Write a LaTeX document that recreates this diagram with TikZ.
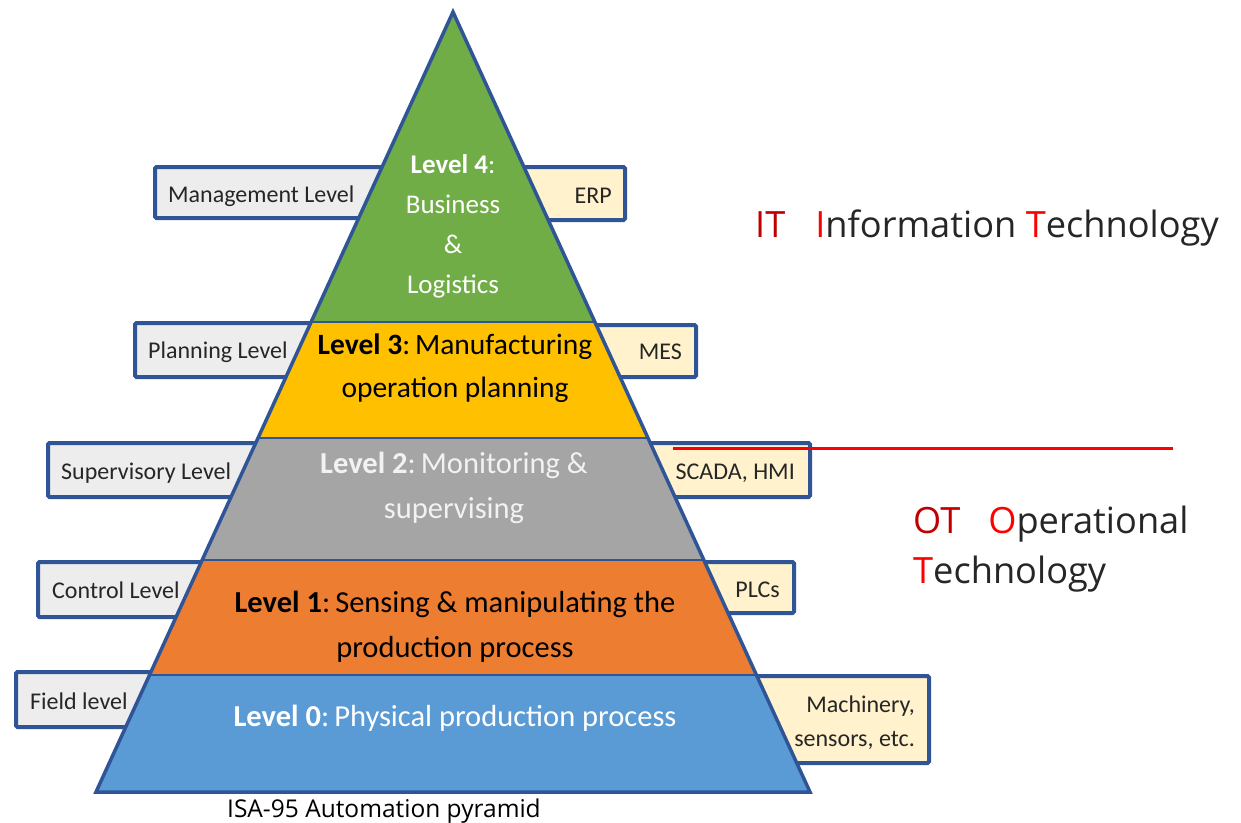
\documentclass[tikz,border=0pt]{standalone}
\usepackage{fontspec}
\setmainfont{Carlito}
\newfontfamily\osans{Open Sans}
\usetikzlibrary{calc}
\definecolor{bordblue}{HTML}{2F5597}
\definecolor{boxgrey}{HTML}{EDEDED}
\definecolor{boxcream}{HTML}{FFF2CC}
\definecolor{lgreen}{HTML}{70AD47}
\definecolor{lyellow}{HTML}{FFC000}
\definecolor{lgrey}{HTML}{A5A5A5}
\definecolor{lorange}{HTML}{ED7D31}
\definecolor{lblue}{HTML}{5B9BD5}
\definecolor{txtdark}{HTML}{262626}
\definecolor{itdark}{HTML}{C00000}
\definecolor{itred}{HTML}{FF0000}
\begin{document}
\begin{tikzpicture}[x=1pt,y=-1pt,
  lbox/.style={draw=bordblue, line width=4pt, fill=boxgrey, rounded corners=1.5pt},
  rbox/.style={draw=bordblue, line width=4pt, fill=boxcream, rounded corners=1.5pt},
  ltext/.style={anchor=base west, inner sep=0pt, font=\fontsize{24}{28}\selectfont, text=txtdark},
  rtext/.style={anchor=base east, inner sep=0pt, font=\fontsize{24}{28}\selectfont, text=txtdark},
  lvl/.style={anchor=base, inner sep=0pt, font=\fontsize{30.5}{36}\selectfont},
  lvlfour/.style={anchor=base, inner sep=0pt, font=\fontsize{27}{32}\selectfont, text=white},
  sep/.style={draw=bordblue, line width=2.5pt},
  bigtxt/.style={anchor=base west, inner sep=0pt, font=\osans\fontsize{36.2}{40}\selectfont, text=txtdark}
]
\useasboundingbox (0,0) rectangle (1241,822);

% side boxes (behind the pyramid)
\draw[lbox] (155,167) rectangle (453,218);
\draw[rbox] (453,167) rectangle (625,220);
\draw[lbox] (135,323) rectangle (453,377);
\draw[rbox] (453,325) rectangle (696,377);
\draw[lbox] (48,443) rectangle (453,497);
\draw[rbox] (453,443) rectangle (810,497);
\draw[lbox] (38,562) rectangle (453,617);
\draw[rbox] (453,562) rectangle (794,613);
\draw[lbox] (16,672) rectangle (453,727);
\draw[rbox] (453,676) rectangle (929,763);

% pyramid
\coordinate (apex) at (453,12);
\coordinate (bl) at (96,792);
\coordinate (br) at (810,792);
\coordinate (a1) at ($(apex)!0.3974!(bl)$);
\coordinate (b1) at ($(apex)!0.3974!(br)$);
\coordinate (a2) at ($(apex)!0.5462!(bl)$);
\coordinate (b2) at ($(apex)!0.5462!(br)$);
\coordinate (a3) at ($(apex)!0.7026!(bl)$);
\coordinate (b3) at ($(apex)!0.7026!(br)$);
\coordinate (a4) at ($(apex)!0.85!(bl)$);
\coordinate (b4) at ($(apex)!0.85!(br)$);

\fill[lgreen] (apex) -- (b1) -- (a1) -- cycle;
\fill[lyellow] (a1) -- (b1) -- (b2) -- (a2) -- cycle;
\fill[lgrey] (a2) -- (b2) -- (b3) -- (a3) -- cycle;
\fill[lorange] (a3) -- (b3) -- (b4) -- (a4) -- cycle;
\fill[lblue] (a4) -- (b4) -- (br) -- (bl) -- cycle;
\draw[sep] (a1) -- (b1);
\draw[sep] (a2) -- (b2);
\draw[sep] (a3) -- (b3);
\draw[sep] (a4) -- (b4);
\draw[draw=bordblue, line width=3.5pt, line join=miter] (apex) -- (br) -- (bl) -- cycle;

% box labels
\node[ltext] (mgmt) at (168,202) {Management Level};
\node[rtext] (erp) at (612,203) {ERP};
\node[ltext] (plan) at (148,358) {Planning Level};
\node[rtext] (mes) at (682,359) {MES};
\node[ltext] (sup) at (61,479) {Supervisory Level};
\node[rtext] (scada) at (795,479) {SCADA, HMI};
\node[ltext] (ctrl) at (52,598) {Control Level};
\node[rtext] (plc) at (780,597) {PLCs};
\node[ltext] (field) at (30,709) {Field level};
\node[rtext] (mach1) at (915,712) {Machinery,};
\node[rtext] (mach2) at (915,746) {sensors, etc.};

% level texts
\node[lvlfour] (l4a) at (453,173) {\textbf{Level 4}:};
\node[lvlfour] (l4b) at (453,213) {Business};
\node[lvlfour] (l4c) at (453,253) {\&};
\node[lvlfour] (l4d) at (453,293) {Logistics};
\node[lvl, text=black, font=\fontsize{29.5}{36}\selectfont] (l3a) at (455,354) {\textbf{Level 3}:\,Manufacturing};
\node[lvl, text=black, font=\fontsize{29.5}{36}\selectfont] (l3b) at (455,397) {operation planning};
\node[lvl, text=white!95!black] (l2a) at (454,473) {\textbf{Level 2}:\,Monitoring \&};
\node[lvl, text=white!95!black] (l2b) at (454,518) {supervising};
\node[lvl, text=black] (l1a) at (455,612) {\textbf{Level 1}:\,Sensing \& manipulating the};
\node[lvl, text=black] (l1b) at (455,657) {production process};
\node[lvl, text=white] (l0) at (455,726) {\textbf{Level 0}:\,Physical production process};

% IT / OT
\coordinate (redA) at (673,448);
\coordinate (redB) at (1173,448);
\draw[itred, line width=3pt] (redA) -- (redB);
\node[bigtxt] (it) at (755,237) {\textcolor{itdark}{IT}\hspace{30pt}\textcolor{itred}{I}nformation \textcolor{itred}{T}echnology};
\node[bigtxt] (ot) at (913,533) {\textcolor{itdark}{OT}\hspace{28pt}\textcolor{itred}{O}perational};
\node[bigtxt] (ot2) at (913,583) {\textcolor{itred}{T}echnology};

% caption
\node[anchor=base west, inner sep=0pt, font=\osans\fontsize{24.5}{28}\selectfont, text=black] (cap) at (227,817) {ISA-95 Automation pyramid};
\end{tikzpicture}
\end{document}
